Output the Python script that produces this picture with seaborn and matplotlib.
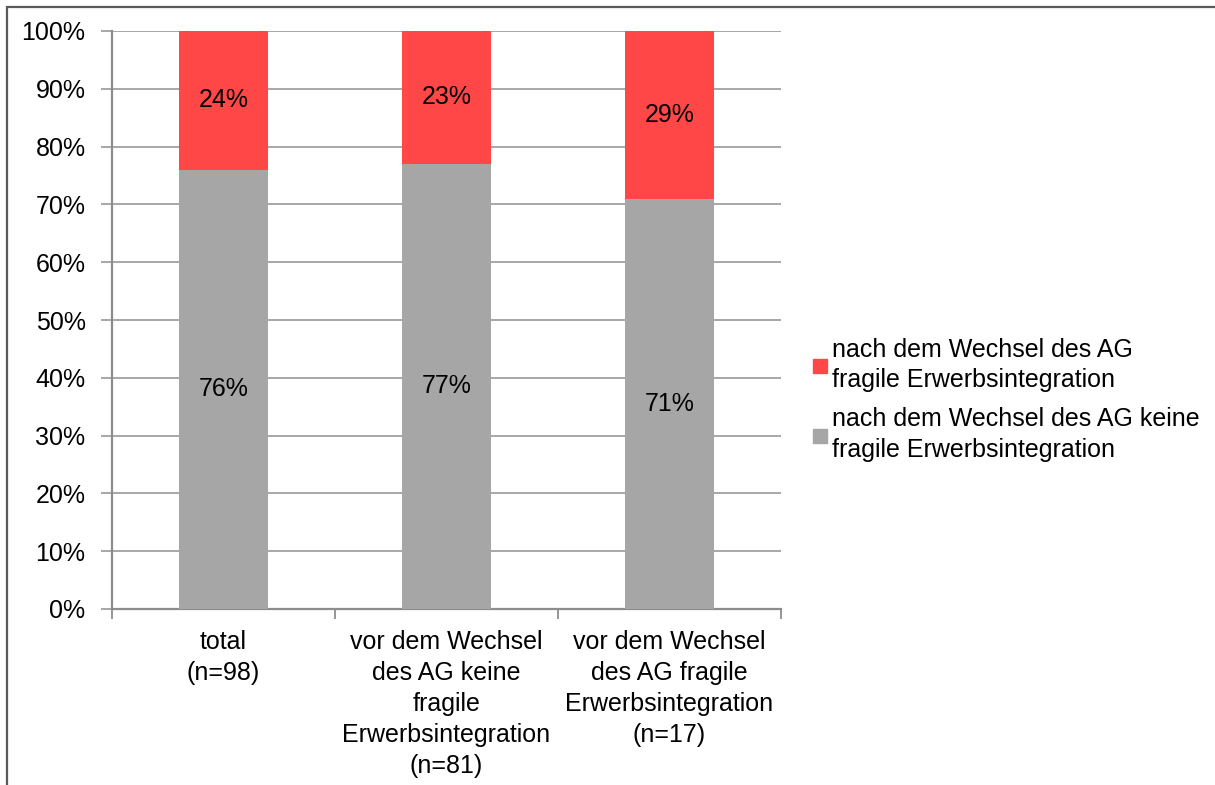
import matplotlib
matplotlib.use("Agg")
import matplotlib.pyplot as plt
from matplotlib.patches import Rectangle
from matplotlib.lines import Line2D
import pandas as pd
import seaborn as sns

sns.set_theme(style="white")
plt.rcParams["font.family"] = ["Liberation Sans", "DejaVu Sans"]
plt.rcParams["text.color"] = "black"
plt.rcParams["xtick.labelcolor"] = "black"
plt.rcParams["ytick.labelcolor"] = "black"

categories = [
    "total\n(n=98)",
    "vor dem Wechsel\ndes AG keine\nfragile\nErwerbsintegration\n(n=81)",
    "vor dem Wechsel\ndes AG fragile\nErwerbsintegration\n(n=17)",
]
keine_fragile = [76, 77, 71]
fragile = [24, 23, 29]
series_names = [
    "nach dem Wechsel des AG\nfragile Erwerbsintegration",
    "nach dem Wechsel des AG keine\nfragile Erwerbsintegration",
]
y_ticks = [0, 10, 20, 30, 40, 50, 60, 70, 80, 90, 100]

RED = "#ff4747"
GREY = "#a6a6a6"
GRID = "#a0a0a0"
AXIS = "#8c8c8c"
FS = 18

df = pd.DataFrame({
    "cat": categories,
    "keine": keine_fragile,
    "fragile": fragile,
})
df["top"] = df["keine"] + df["fragile"]

W, H = 1215, 785
fig = plt.figure(figsize=(W / 100, H / 100), dpi=100)
ax = fig.add_axes([112 / W, (H - 609) / H, (781 - 112) / W, (609 - 31) / H])

# outer chart frame
fig.patches.append(Rectangle((7 / W, -0.05), 1.2, (H - 7) / H + 0.05,
                             transform=fig.transFigure, fill=False,
                             edgecolor="#5a5a5a", linewidth=1.6, zorder=0))

# stacked bars: full height in red, lower segment in grey on top of it
sns.barplot(data=df, x="cat", y="top", color=RED, saturation=1, width=0.4,
            ax=ax, zorder=3, linewidth=0)
sns.barplot(data=df, x="cat", y="keine", color=GREY, saturation=1, width=0.4,
            ax=ax, zorder=4, linewidth=0)

for i, (k, f) in enumerate(zip(keine_fragile, fragile)):
    ax.text(i, k / 2, f"{k}%", ha="center", va="center", fontsize=FS,
            color="black", zorder=5)
    ax.text(i, k + f / 2, f"{f}%", ha="center", va="center", fontsize=FS,
            color="black", zorder=5)

ax.set_ylim(0, 100)
ax.set_xlim(-0.5, len(categories) - 0.5)
ax.set_yticks(y_ticks)
ax.set_yticklabels([f"{t}%" for t in y_ticks], fontsize=FS)
ax.yaxis.grid(True, color=GRID, linewidth=1.3, zorder=0)
ax.set_axisbelow(True)
ax.tick_params(axis="y", length=8, width=1.3, color=GRID, pad=11, left=True)

ax.set_xticks(range(len(categories)))
ax.set_xticklabels(categories, fontsize=FS, linespacing=1.37)
ax.tick_params(axis="x", length=0, pad=15)
ax.set_xticks([i - 0.5 for i in range(len(categories) + 1)], minor=True)
ax.tick_params(axis="x", which="minor", length=7, width=1.3, color=AXIS, bottom=True)

ax.set_xlabel("")
ax.set_ylabel("")
for s in ["top", "right"]:
    ax.spines[s].set_visible(False)
for s in ["left", "bottom"]:
    ax.spines[s].set_color(AXIS)
    ax.spines[s].set_linewidth(1.6)

handles = [
    Line2D([], [], marker="s", linestyle="", markersize=10, color=RED),
    Line2D([], [], marker="s", linestyle="", markersize=10, color=GREY),
]
leg = fig.legend(handles, series_names, loc="center left",
                 bbox_to_anchor=(800 / W, 1 - 400 / H), frameon=False,
                 fontsize=FS, handletextpad=0.1, handlelength=0.8,
                 labelspacing=0.6, borderaxespad=0)
for t in leg.get_texts():
    t.set_linespacing(1.35)

fig.savefig("out.png", dpi=100)
